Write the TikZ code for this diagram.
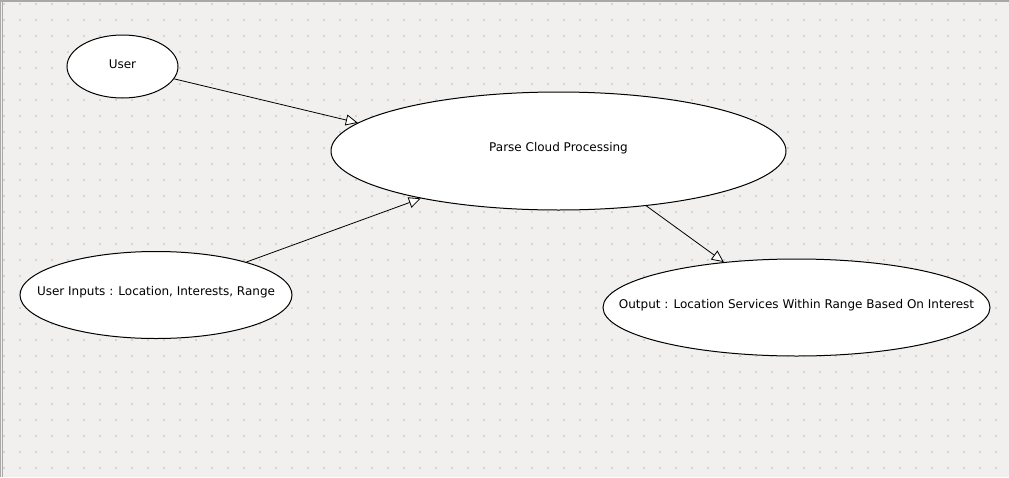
\documentclass[tikz,border=0pt]{standalone}
\usepackage{fontspec}
\setmainfont{DejaVu Sans}
\usetikzlibrary{shapes.geometric,arrows.meta}
\definecolor{canvas}{HTML}{F1F0EE}
\definecolor{griddot}{HTML}{D4D4D4}
\definecolor{frameline}{HTML}{A8A8A8}
\newcommand{\casetext}[1]{\raisebox{2.5pt}[\height][\depth]{\makebox[0pt]{#1}}}
\begin{document}
\begin{tikzpicture}[x=1pt,y=-1pt,
    usecase/.style={ellipse, draw=black, line width=1pt, fill=white, inner sep=0pt,
      font=\fontsize{12}{14}\selectfont},
    link/.style={line width=0.8pt, -{Triangle[length=12pt,width=11pt,fill=white]}}]
  % Define canvas
  \useasboundingbox (0,0) rectangle (1009,477);
  \fill[canvas] (0,0) rectangle (1009,477);
  \foreach \x in {4,20,...,1008}
    \foreach \y in {4,20,...,476}
      \fill[griddot] (\x-1,\y-1) rectangle ++(2,2);
  \draw[frameline, line width=1.5pt] (0,1) -- (1009,1);
  \draw[frameline, line width=1pt] (0.7,0) -- (0.7,477);
  \draw[frameline, line width=1pt] (2.8,0) -- (2.8,477);

  % Define use cases
  \node[usecase, minimum width=111pt, minimum height=63pt] (user) at (122.5,66.5) {\casetext{User}};
  \node[usecase, minimum width=455pt, minimum height=118pt] (parse) at (558.5,151) {\casetext{Parse Cloud Processing}};
  \node[usecase, minimum width=272pt, minimum height=87pt] (inputs) at (156,295) {\casetext{User Inputs : Location, Interests, Range}};
  \node[usecase, minimum width=387pt, minimum height=97pt] (output) at (796.5,307.5) {\casetext{Output : Location Services Within Range Based On Interest}};

  % Draw links
  \draw[link] (user) -- (parse.172);
  \draw[link] (inputs) -- (parse.199);
  \draw[link] (parse.-32.6) -- (output.148.5);
\end{tikzpicture}
\end{document}
